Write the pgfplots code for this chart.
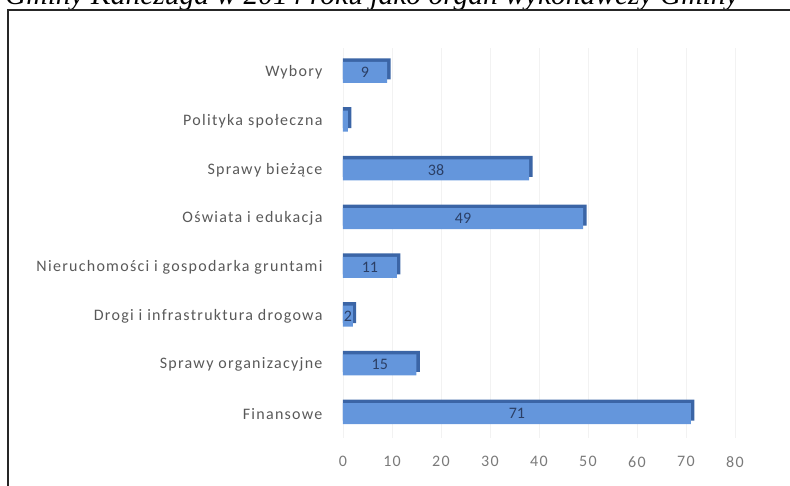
\documentclass[border=0pt]{standalone}
\usepackage{fontspec}
\setmainfont{Carlito}
\newfontfamily\labfont[LetterSpace=8]{Carlito}
\newfontfamily\titlefont{Liberation Serif}
\usepackage{pgfplots}
\pgfplotsset{compat=1.18}
\definecolor{barfront}{HTML}{6496DC}
\definecolor{barback}{HTML}{3B65A6}
\definecolor{labgray}{HTML}{595959}
\definecolor{valcol}{HTML}{2B3F66}
\begin{document}
\begin{tikzpicture}[x=1pt,y=1pt]
\useasboundingbox (0,0) rectangle (790,486);
\begin{scope}
\clip (0,0) rectangle (790,486);
\node[anchor=base west, font=\titlefont\itshape\fontsize{29.5}{32}\selectfont, inner sep=0] at (5,481) {Gminy Kańczuga w 2014 roku jako organ wykonawczy Gminy};
\end{scope}
\draw[line width=2pt, black!85] (8,0) -- (8,476) -- (790,476);
\begin{axis}[
  at={(343pt,48pt)}, anchor=south west,
  scale only axis, width=392pt, height=390pt,
  xmin=0, xmax=80, ymin=-0.5, ymax=7.5,
  xtick={0,10,...,80}, ytick={0,...,7},
  yticklabels={Finansowe, Sprawy organizacyjne, Drogi i infrastruktura drogowa, Nieruchomości i gospodarka gruntami, Oświata i edukacja, Sprawy bieżące, Polityka społeczna, Wybory},
  axis line style={draw=none},
  major tick length=0pt,
  xmajorgrids, grid style={black!5, line width=0.8pt},
  /pgf/number format/assume math mode=true,
  xticklabel style={font=\labfont\fontsize{16}{18}\selectfont, text=labgray!80, yshift=-15pt},
  yticklabel style={font=\labfont\fontsize{16}{18}\selectfont, text=labgray, xshift=-17pt},
  clip=false,
]
\addplot[xbar, bar width=21pt, bar shift=3.5pt, fill=barback, draw=none] coordinates {
  (71.7,0) (15.7,1) (2.7,2) (11.7,3) (49.7,4) (38.7,5) (1.7,6) (9.7,7)};
\addplot[xbar, bar width=21pt, bar shift=0pt, fill=barfront, draw=none] coordinates {
  (71,0) (15,1) (2,2) (11,3) (49,4) (38,5) (1,6) (9,7)};
\addplot[only marks, mark=none, nodes near coords, point meta=explicit symbolic,
  nodes near coords style={anchor=center, font=\fontsize{16}{18}\selectfont, text=valcol}]
  table[meta=lab] {
x y lab
35.5 0 71
7.5 1 15
1 2 2
5.5 3 11
24.5 4 49
19 5 38
4.5 7 9
};
\end{axis}
\end{tikzpicture}
\end{document}
